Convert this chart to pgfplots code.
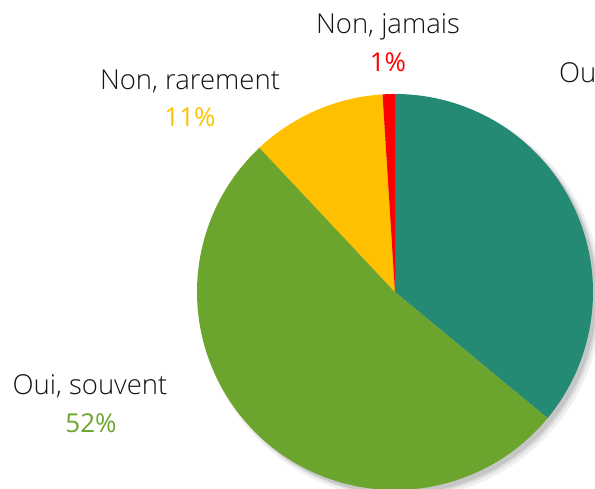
\documentclass[border=0pt]{standalone}
\usepackage{pgfplots}
\pgfplotsset{compat=1.18}
\usepackage{pgfplotstable}
\usepackage{fontspec}
\setmainfont{Open Sans}[UprightFont=* Light]
\newfontfamily\pctfont{Open Sans}
\definecolor{cteal}{RGB}{37,138,115}
\definecolor{cgreen}{RGB}{107,165,46}
\definecolor{cyellow}{RGB}{255,192,0}
\definecolor{cred}{RGB}{255,0,0}
\definecolor{ctext}{RGB}{20,20,20}
\pgfplotstableread{
pct
36
52
11
1
}\piedata
\pgfplotstablegetelem{0}{pct}\of\piedata \let\pA\pgfplotsretval
\pgfplotstablegetelem{1}{pct}\of\piedata \let\pB\pgfplotsretval
\pgfplotstablegetelem{2}{pct}\of\piedata \let\pC\pgfplotsretval
\pgfplotstablegetelem{3}{pct}\of\piedata \let\pD\pgfplotsretval
\pgfmathsetmacro\aA{90}
\pgfmathsetmacro\aB{\aA-3.6*\pA}
\pgfmathsetmacro\aC{\aB-3.6*\pB}
\pgfmathsetmacro\aD{\aC-3.6*\pC}
\pgfmathsetmacro\aE{\aD-3.6*\pD}
\def\cx{395}\def\cy{197}\def\R{198}
\tikzset{lbl/.style={font=\fontsize{27.5bp}{32bp}\selectfont, anchor=base, inner sep=0pt},
         pct/.style={font=\fontsize{26bp}{32bp}\selectfont\pctfont, anchor=base, inner sep=0pt}}
\begin{document}
\begin{tikzpicture}
\begin{axis}[
  at={(0,0)}, anchor=south west,
  scale only axis, width=595bp, height=489bp,
  xmin=0, xmax=595, ymin=0, ymax=489,
  hide axis, clip=false,
]
% shadow
\addplot[fill=black, fill opacity=0.06, draw=none, domain=0:360, samples=120]
  ({\cx+6+(\R+3)*cos(x)},{\cy-6+(\R+3)*sin(x)}) -- cycle;
\addplot[fill=black, fill opacity=0.08, draw=none, domain=0:360, samples=120]
  ({\cx+5+(\R+1)*cos(x)},{\cy-5+(\R+1)*sin(x)}) -- cycle;
\addplot[fill=black, fill opacity=0.10, draw=none, domain=0:360, samples=120]
  ({\cx+4+\R*cos(x)},{\cy-4+\R*sin(x)}) -- cycle;
% slices
\addplot[fill=cteal, draw=none, domain=\aA:\aB, samples=100]
  ({\cx+\R*cos(x)},{\cy+\R*sin(x)}) -- (\cx,\cy) -- cycle;
\addplot[fill=cgreen, draw=none, domain=\aB:\aC, samples=120]
  ({\cx+\R*cos(x)},{\cy+\R*sin(x)}) -- (\cx,\cy) -- cycle;
\addplot[fill=cyellow, draw=none, domain=\aC:\aD, samples=40]
  ({\cx+\R*cos(x)},{\cy+\R*sin(x)}) -- (\cx,\cy) -- cycle;
\addplot[fill=cred, draw=none, domain=\aD:\aE, samples=10]
  ({\cx+\R*cos(x)},{\cy+\R*sin(x)}) -- (\cx,\cy) -- cycle;
% labels
\node[lbl, text=ctext] at (388,455) {Non, jamais};
\node[pct, text=cred] at (388,417) {1\%};
\node[lbl, text=ctext] at (190,399) {Non, rarement};
\node[pct, text=cyellow] at (190,362) {11\%};
\node[lbl, text=ctext] at (90,94) {Oui, souvent};
\node[pct, text=cgreen] at (91,56) {52\%};
\node[lbl, text=ctext, anchor=base west] at (559,406) {Oui, toujours};
\node[pct, text=cteal] at (650,368) {36\%};
\end{axis}
\pgfresetboundingbox
\path[use as bounding box] (0,0) rectangle (595bp,489bp);
\end{tikzpicture}
\end{document}
